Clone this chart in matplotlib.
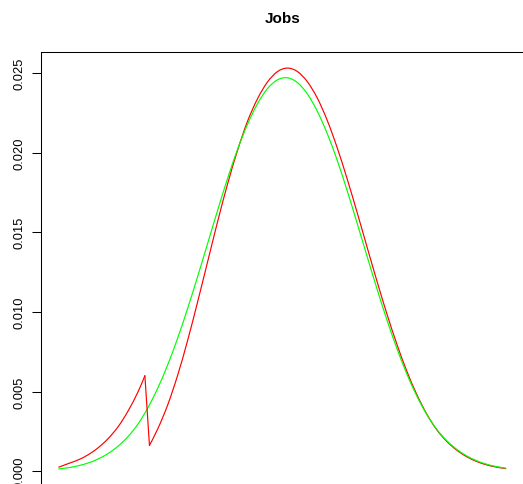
import matplotlib
matplotlib.use("Agg")
import matplotlib.pyplot as plt
from matplotlib.path import Path
from matplotlib.patches import PathPatch

plt.rcParams['font.family'] = ['Liberation Sans', 'DejaVu Sans']

title = "Jobs"

# x positions (arbitrary units, plot range 0..45)
x_green = list(range(46))
green = [0.000143, 0.000226, 0.000348, 0.000525, 0.000774, 0.001117, 0.001578,
         0.002183, 0.002968, 0.003993, 0.005239, 0.006707, 0.008384, 0.010244,
         0.012237, 0.014305, 0.016377, 0.018372, 0.020197, 0.021769, 0.023058,
         0.024004, 0.024558, 0.024693, 0.024400, 0.023696, 0.022616, 0.021214,
         0.019548, 0.017644, 0.015611, 0.013531, 0.011482, 0.009533, 0.007738,
         0.006136, 0.004750, 0.003587, 0.002647, 0.001939, 0.001391, 0.000977,
         0.000671, 0.000451, 0.000297, 0.000191]

x_red = [0, 1, 2, 3, 4, 5, 6, 7, 8, 8.69, 9.15] + list(range(10, 46))
red = [0.00025, 0.000485, 0.000719, 0.001042, 0.00148, 0.002055, 0.002797,
       0.003782, 0.004983, 0.00600, 0.001626,
       0.002684, 0.004194, 0.006063, 0.008246, 0.010656, 0.013162, 0.015668,
       0.018025, 0.020135, 0.021954, 0.023364, 0.024417, 0.025073, 0.025300,
       0.025091, 0.024460, 0.023440, 0.022043, 0.020333, 0.018384, 0.016283,
       0.014112, 0.011960, 0.009901, 0.008003, 0.006306, 0.004840, 0.003615,
       0.002626, 0.001895, 0.001341, 0.000926, 0.000624, 0.000411, 0.000264,
       0.000166]
red_break = 9  # index where the red density jumps down

yticks = [0.000, 0.005, 0.010, 0.015, 0.020, 0.025]
ytick_labels = ["0.000", "0.005", "0.010", "0.015", "0.020", "0.025"]


def smooth_path(xs, ys):
    """Catmull-Rom curve through the given points, as cubic Bezier path."""
    verts = [(xs[0], ys[0])]
    codes = [Path.MOVETO]
    n = len(xs)
    for i in range(n - 1):
        x0, y0 = (xs[i - 1], ys[i - 1]) if i > 0 else (xs[i], ys[i])
        x1, y1 = xs[i], ys[i]
        x2, y2 = xs[i + 1], ys[i + 1]
        x3, y3 = (xs[i + 2], ys[i + 2]) if i + 2 < n else (x2, y2)
        c1 = (x1 + (x2 - x0) / 6.0, y1 + (y2 - y0) / 6.0)
        c2 = (x2 - (x3 - x1) / 6.0, y2 - (y3 - y1) / 6.0)
        verts += [c1, c2, (x2, y2)]
        codes += [Path.CURVE4] * 3
    return Path(verts, codes)


W, H = 523, 485
fig = plt.figure(figsize=(W / 100, H / 100), dpi=100)
left_px, right_px, top_px, bottom_px = 40.5, 524.1, 53.0, 486.0
ax = fig.add_axes([left_px / W, (H - bottom_px) / H,
                   (right_px - left_px) / W, (bottom_px - top_px) / H])

lw = 0.85
# red: left piece, jump, right piece
ax.add_patch(PathPatch(smooth_path(x_red[:red_break + 1], red[:red_break + 1]),
                       fill=False, edgecolor="#FF0000", lw=lw))
ax.plot(x_red[red_break:red_break + 2], red[red_break:red_break + 2],
        color="#FF0000", lw=lw)
ax.add_patch(PathPatch(smooth_path(x_red[red_break + 1:], red[red_break + 1:]),
                       fill=False, edgecolor="#FF0000", lw=lw))
# green
ax.add_patch(PathPatch(smooth_path(x_green, green),
                       fill=False, edgecolor="#00FF00", lw=lw))

ax.set_xlim(-1.8, 46.8)
ax.set_ylim(-0.00086, 0.02631)

ax.set_yticks(yticks)
ax.set_yticklabels(ytick_labels, rotation=90, va="center")
ax.set_xticks([])
ax.tick_params(axis="y", direction="out", length=6.5, width=0.75,
               pad=4.5, labelsize=9.3, colors="black")
for s in ax.spines.values():
    s.set_linewidth(0.75)
    s.set_color("black")

fig.text(282.3 / W, (H - 19) / H, title, ha="center", va="center",
         fontsize=11, fontweight="bold")

fig.savefig("out.png", dpi=100)
